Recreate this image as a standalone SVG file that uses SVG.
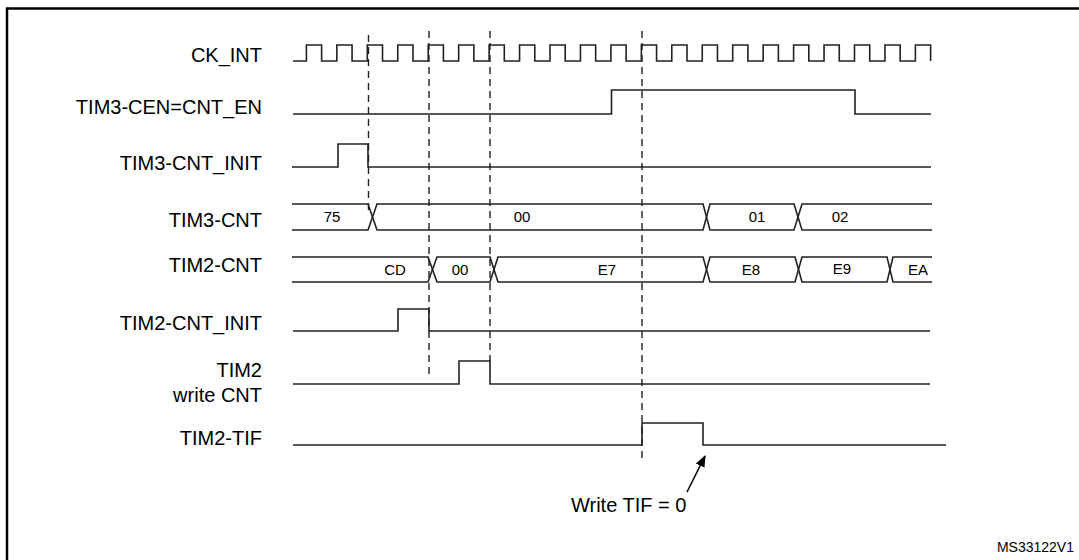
<svg xmlns="http://www.w3.org/2000/svg" width="1079" height="560" viewBox="0 0 1079 560">
<style>
.lbl{font-family:"Liberation Sans",Arial,sans-serif;font-size:20px;fill:#000;text-anchor:end}
.bus{font-family:"Liberation Sans",Arial,sans-serif;font-size:15px;fill:#000;text-anchor:middle}
.sig{fill:none;stroke:#222;stroke-width:1.6}
.dash{fill:none;stroke:#222;stroke-width:1.4;stroke-dasharray:7 5}
</style>
<defs><marker id="ah" viewBox="0 0 10 10" refX="9" refY="5" markerWidth="8" markerHeight="8" orient="auto"><path d="M0 1 L10 5 L0 9 z" fill="#000"/></marker></defs>
<rect width="1079" height="560" fill="#fff"/>
<path d="M7 560 V8.5 H1079" fill="none" stroke="#000" stroke-width="2.5"/>
<g id="labels">
<text class="lbl" x="262" y="62">CK_INT</text>
<text class="lbl" x="262" y="114">TIM3-CEN=CNT_EN</text>
<text class="lbl" x="262" y="170">TIM3-CNT_INIT</text>
<text class="lbl" x="262" y="227">TIM3-CNT</text>
<text class="lbl" x="262" y="272">TIM2-CNT</text>
<text class="lbl" x="262" y="330">TIM2-CNT_INIT</text>
<text class="lbl" x="262" y="377">TIM2</text>
<text class="lbl" x="262" y="402">write CNT</text>
<text class="lbl" x="262" y="445">TIM2-TIF</text>
</g>
<g id="guides">
<path class="dash" d="M368.5 35 V215"/>
<path class="dash" d="M429 31 V376"/>
<path class="dash" d="M490 31 V361"/>
<path class="dash" d="M642 31 V459"/>
</g>
<g id="ck_int"><path class="sig" d="M293 61 H306.4 V45 h15.22 V61 h15.23 V45 h15.22 V61 h15.23 V45 h15.22 V61 h15.23 V45 h15.22 V61 h15.23 V45 h15.22 V61 h15.23 V45 h15.22 V61 h15.23 V45 h15.22 V61 h15.23 V45 h15.22 V61 h15.23 V45 h15.22 V61 h15.23 V45 h15.22 V61 h15.23 V45 h15.22 V61 h15.23 V45 h15.22 V61 h15.23 V45 h15.22 V61 h15.23 V45 h15.22 V61 h15.23 V45 h15.22 V61 h15.23 V45 h15.22 V61 h15.23 V45 h15.22 V61 h15.23 V45 h15.22 V61 h15.23 V45 h15.22 V61 h15.23 V45 h15.22 V61 h15.23 V45 h15.22 V61"/></g>
<g id="cen"><path class="sig" d="M293 114 H611.5 V90 H855 V114 H931"/></g>
<g id="tim3_init"><path class="sig" d="M292 167 H338 V144 H368 V167 H931"/></g>
<g id="tim3_cnt">
<path class="sig" d="M292 204 H368 L377 230 H703 L710 204 H794 L802 230 H932"/>
<path class="sig" d="M292 230 H368 L377 204 H703 L710 230 H794 L802 204 H932"/>
<text class="bus" x="332" y="222">75</text>
<text class="bus" x="522" y="222">00</text>
<text class="bus" x="757" y="222">01</text>
<text class="bus" x="840" y="222">02</text>
</g>
<g id="tim2_cnt">
<path class="sig" d="M292 257 H428 L437 282 H490 L498 257 H703 L710 282 H795 L802 257 H887 L893 282 H932"/>
<path class="sig" d="M292 282 H428 L437 257 H490 L498 282 H703 L710 257 H795 L802 282 H887 L893 257 H932"/>
<text class="bus" x="395" y="275">CD</text>
<text class="bus" x="460" y="275">00</text>
<text class="bus" x="607" y="275">E7</text>
<text class="bus" x="751" y="275">E8</text>
<text class="bus" x="842" y="274">E9</text>
<text class="bus" x="918" y="275">EA</text>
</g>
<g id="tim2_init"><path class="sig" d="M293 331 H398 V309 H429 V331 H930"/></g>
<g id="tim2_write"><path class="sig" d="M293 384 H459 V361 H490 V384 H930"/></g>
<g id="tim2_tif"><path class="sig" d="M293 445 H642 V423 H703 V445 H946"/></g>
<g id="connectors"><line x1="687" y1="492" x2="705" y2="456" stroke="#000" stroke-width="1.5" marker-end="url(#ah)"/></g>
<g id="note"><text x="571" y="512" font-family="Liberation Sans,Arial,sans-serif" font-size="20">Write TIF = 0</text></g>
<text x="1074" y="552" font-family="Liberation Sans,Arial,sans-serif" font-size="14" text-anchor="end">MS33122V1</text>
</svg>
